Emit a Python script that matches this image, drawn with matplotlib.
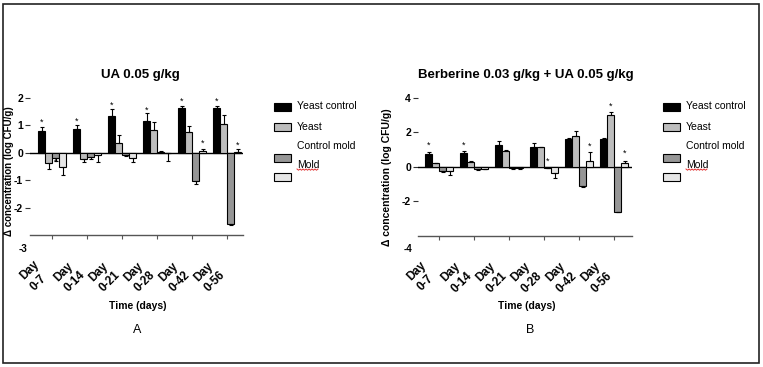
import matplotlib
matplotlib.use('Agg')
import matplotlib.pyplot as plt
import numpy as np
from matplotlib.patches import Rectangle
from matplotlib.lines import Line2D

plt.rcParams['font.family'] = ['Liberation Sans', 'DejaVu Sans']

# ---------------- data ----------------
days = ['Day\n0-7', 'Day\n0-14', 'Day\n0-21', 'Day\n0-28', 'Day\n0-42', 'Day\n0-56']
series = ['Yeast control', 'Yeast', 'Control mold', 'Mold']
series_colors = ['#000000', '#bdbdbd', '#969696', '#e6e6e6']

# Panel A: UA 0.05 g/kg
a_yeast_control = [0.79, 0.85, 1.32, 1.15, 1.64, 1.64]
a_yeast_control_err = [0.16, 0.15, 0.28, 0.29, 0.05, 0.05]
a_yeast = [-0.39, -0.23, 0.36, 0.84, 0.77, 1.05]
a_yeast_err = [0.21, 0.12, 0.27, 0.27, 0.20, 0.31]
a_control_mold = [-0.20, -0.15, -0.10, 0.04, -1.03, -2.58]
a_control_mold_err = [0.10, 0.07, 0.03, 0.04, 0.12, 0.04]
a_mold = [-0.53, -0.10, -0.18, -0.02, 0.08, 0.04]
a_mold_err = [0.28, 0.23, 0.16, 0.28, 0.05, 0.08]
a_star_group = [0, 0, 1, 2, 3, 4, 4, 5, 5]
a_star_series = [0, 2, 0, 0, 0, 0, 3, 0, 3]
a_star_y = [1.10, -0.36, 1.13, 1.72, 1.54, 1.87, 0.33, 1.87, 0.27]

# Panel B: Berberine 0.03 g/kg + UA 0.05 g/kg
b_yeast_control = [0.72, 0.78, 1.26, 1.13, 1.61, 1.61]
b_yeast_control_err = [0.15, 0.12, 0.25, 0.27, 0.05, 0.05]
b_yeast = [0.20, 0.29, 0.93, 1.13, 1.78, 3.00]
b_yeast_err = [0.05, 0.06, 0.04, 0.0, 0.32, 0.20]
b_control_mold = [-0.25, -0.12, -0.08, -0.05, -1.10, -2.60]
b_control_mold_err = [0.05, 0.05, 0.04, 0.03, 0.05, 0.05]
b_mold = [-0.23, -0.10, -0.08, -0.38, 0.35, 0.20]
b_mold_err = [0.25, 0.02, 0.02, 0.29, 0.49, 0.15]
b_star_group = [0, 1, 3, 4, 5, 5]
b_star_series = [0, 0, 2, 3, 1, 3]
b_star_y = [1.26, 1.26, 0.33, 1.22, 3.50, 0.78]

a_yticks = [-2, -1, 0, 1, 2]
b_yticks = [-2, 0, 2, 4]

# ---------------- figure ----------------
W, H = 763, 367
fig = plt.figure(figsize=(W / 100, H / 100), dpi=100)


def rect_px(x0, x1, ytop, ybot):
    return [x0 / W, (H - ybot) / H, (x1 - x0) / W, (ybot - ytop) / H]


def fx(x):
    return x / W


def fy(y):
    return (H - y) / H


offsets = [-0.3, -0.1, 0.1, 0.3]
bw = 0.18


def draw_panel(ax, values, errs, ylim, yticks, xlim, sg, ss, sy):
    x = np.arange(len(days))
    for i, (v, e) in enumerate(zip(values, errs)):
        v = np.array(v)
        e = np.array(e)
        lower = np.where(v < 0, e, 0)
        upper = np.where(v >= 0, e, 0)
        ax.bar(x + offsets[i], v, bw, color=series_colors[i], edgecolor='black',
               linewidth=0.8, yerr=[lower, upper],
               error_kw=dict(ecolor='black', elinewidth=0.8, capsize=1.5, capthick=0.8),
               zorder=3)
    for g, s, yv in zip(sg, ss, sy):
        ax.text(g + offsets[s], yv, '*', ha='center', va='center', fontsize=6.5,
                zorder=4)
    ax.axhline(0, color='black', lw=1.0, zorder=2)
    ax.set_xlim(*xlim)
    ax.set_ylim(*ylim)
    for sp in ['top', 'right', 'left']:
        ax.spines[sp].set_visible(False)
    ax.spines['bottom'].set_color('#555555')
    ax.spines['bottom'].set_linewidth(1.0)
    ax.set_yticks(yticks)
    ax.set_yticklabels([str(t) for t in yticks], fontsize=7.5, fontweight='bold')
    ax.tick_params(axis='y', length=3.5, width=0.8, pad=1.5, color='#333333')
    ax.set_xticks(x)
    ax.set_xticklabels(days, rotation=45, ha='right', va='top', fontsize=8.5,
                       fontweight='bold', multialignment='left', linespacing=1.3)
    ax.tick_params(axis='x', length=3, width=0.8, pad=14, color='#555555')
    ax.patch.set_alpha(0)


# Panel A
axA = fig.add_axes(rect_px(30, 243, 89.5, 235.2))
draw_panel(axA,
           [a_yeast_control, a_yeast, a_control_mold, a_mold],
           [a_yeast_control_err, a_yeast_err, a_control_mold_err, a_mold_err],
           (-3, 2.3), a_yticks, (-0.629, 5.457),
           a_star_group, a_star_series, a_star_y)

# Panel B
axB = fig.add_axes(rect_px(418, 632, 89.4, 235.6))
draw_panel(axB,
           [b_yeast_control, b_yeast, b_control_mold, b_mold],
           [b_yeast_control_err, b_yeast_err, b_control_mold_err, b_mold_err],
           (-4, 4.5), b_yticks, (-0.6, 5.514),
           b_star_group, b_star_series, b_star_y)

# detached bottom tick labels
fig.text(fx(23), fy(249), '-3', ha='center', va='center', fontsize=7, fontweight='bold')
fig.text(fx(408), fy(249), '-4', ha='center', va='center', fontsize=7, fontweight='bold')

# titles
fig.text(fx(140), fy(75), 'UA 0.05 g/kg', ha='center', va='center', fontsize=9.5,
         fontweight='bold')
fig.text(fx(526), fy(75), 'Berberine 0.03 g/kg + UA 0.05 g/kg', ha='center', va='center',
         fontsize=9.5, fontweight='bold')

# y labels
fig.text(fx(9), fy(171), '\u0394 concentration (log CFU/g)', rotation=90, ha='center',
         va='center', fontsize=7, fontweight='bold')
fig.text(fx(387), fy(177), '\u0394 concentration (log CFU/g)', rotation=90, ha='center',
         va='center', fontsize=7.5, fontweight='bold')

# x labels
fig.text(fx(138), fy(306), 'Time (days)', ha='center', va='center', fontsize=7.5,
         fontweight='bold')
fig.text(fx(527), fy(306), 'Time (days)', ha='center', va='center', fontsize=7.5,
         fontweight='bold')

# panel letters
fig.text(fx(137), fy(330), 'A', ha='center', va='center', fontsize=9)
fig.text(fx(530), fy(330), 'B', ha='center', va='center', fontsize=9)

# legends (drawn manually to reproduce the offset layout)
patch_tops = [103, 123, 154, 173]
text_ys = [106, 127, 146, 165]
for px0, tx in [(274, 297), (663, 686)]:
    for i in range(4):
        fig.add_artist(Rectangle((fx(px0), fy(patch_tops[i] + 8)), 17 / W, 8 / H,
                                 transform=fig.transFigure, facecolor=series_colors[i],
                                 edgecolor='black', linewidth=0.8))
        fig.text(fx(tx), fy(text_ys[i]), series[i], ha='left', va='center', fontsize=7.5)
    # red spell-check squiggle under "Mold"
    sx = np.arange(tx, tx + 22, 1.5)
    sq = 169 + np.where(np.arange(len(sx)) % 2 == 0, 0, 1.2)
    fig.add_artist(Line2D(fx(sx), fy(sq), transform=fig.transFigure, color='#e03030',
                          lw=0.7))

# outer frame
fig.add_artist(Rectangle((fx(3), fy(363)), 756 / W, 359 / H, transform=fig.transFigure,
                         facecolor='none', edgecolor='#222222', linewidth=1.2))

fig.savefig('out.png', dpi=100)
